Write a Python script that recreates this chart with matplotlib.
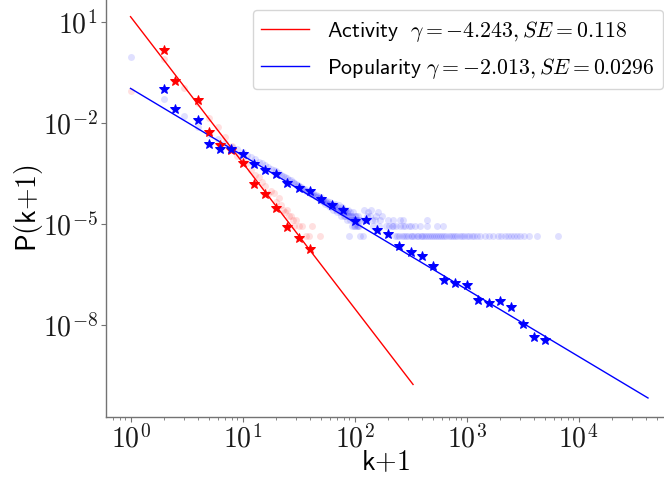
import matplotlib
matplotlib.use("Agg")
import matplotlib.pyplot as plt
import numpy as np

plt.rcParams["mathtext.fontset"] = "cm"

# number of users (P = count / N)
N_USERS = 229000

# log-binned points (bin centres as log10 k+1, log10 P)
act_bin_logk = [0.3, 0.4, 0.6, 0.7, 0.8, 0.9, 1.0, 1.1, 1.2, 1.3, 1.4, 1.5, 1.6]
act_bin_logp = [0.16, -0.76, -1.32, -2.27, -2.65, -2.82, -3.21, -3.81, -4.12,
                -4.54, -5.11, -5.41, -5.76]

pop_bin_logk = [0.3, 0.4, 0.6, 0.7, 0.8, 0.9, 1.0, 1.1, 1.2, 1.3, 1.4, 1.5, 1.6,
                1.7, 1.8, 1.9, 2.0, 2.1, 2.2, 2.3, 2.4, 2.5, 2.6, 2.7, 2.8, 2.9,
                3.0, 3.1, 3.2, 3.3, 3.4, 3.5, 3.6, 3.7]
pop_bin_logp = [-1.01, -1.60, -1.905, -2.63, -2.78, -2.78, -2.93, -3.24, -3.40,
                -3.53, -3.80, -3.95, -4.03, -4.25, -4.44, -4.59, -4.91, -4.88,
                -5.19, -5.31, -5.66, -5.83, -5.95, -6.25, -6.67, -6.75, -6.82,
                -7.27, -7.36, -7.29, -7.46, -7.98, -8.37, -8.45]

# raw counts per k+1 (activity)
act_raw_k = [1, 2, 3, 4, 5, 6, 7, 8, 9, 10, 11, 12, 13, 14, 15, 16, 17, 18, 19,
             20, 21, 22, 23, 24, 25, 26, 27, 28, 29, 30, 32, 34, 37, 39, 42, 49]
act_raw_cnt = [19900, 175000, 25100, 9100, 3230, 1660, 850, 457, 229, 204, 144,
               91, 64, 55, 41, 30, 18, 22, 19, 10, 13, 8, 6, 5, 6, 4, 4, 3, 2, 3,
               2, 2, 1, 1, 2, 1]

# raw counts per k+1 (popularity), k+1 = 1..110
pop_raw_cnt = [208000, 11500, 3630, 1660, 1080, 760, 560, 450, 370, 300,
               255, 215, 190, 160, 142, 126, 113, 98, 90, 82,
               74, 66, 62, 55, 52, 47, 45, 40, 38, 35,
               33, 30, 29, 26, 25, 24, 22, 21, 20, 19,
               18, 17, 19, 15, 16, 14, 15, 13, 12, 14,
               11, 12, 10, 11, 9, 10, 11, 8, 9, 10,
               7, 9, 8, 6, 8, 7, 9, 6, 7, 5,
               7, 6, 8, 5, 6, 4, 7, 5, 6, 4,
               5, 6, 4, 5, 3, 5, 4, 6, 1, 4,
               5, 3, 4, 2, 4, 3, 5, 2, 3, 4,
               3, 2, 4, 3, 2, 3, 4, 2, 3, 2]
# sparse tail of popularity, grouped by count
pop_tail_k1 = [112, 119, 232, 241, 249, 263, 275, 288, 301, 316, 329, 342, 358,
               371, 389, 404, 421, 437, 452, 470, 491, 512, 534, 556, 581, 607,
               633, 660, 694, 727, 760, 795, 830, 872, 910, 952, 1000, 1050,
               1110, 1170, 1240, 1320, 1450, 1580, 1730, 1900, 2050, 2200, 2330,
               2480, 2640, 2810, 3000, 3260, 3600, 4250, 6550]
pop_tail_k2 = [146, 166, 192, 203, 214, 222, 236, 254, 270, 283, 308, 322, 347,
               385, 444, 545, 618]
pop_tail_k3 = [114, 124, 143, 152, 169, 197, 219, 257, 272, 447]
pop_tail_k4 = [128, 137, 157, 176]
pop_tail_k5 = [133, 161]
pop_tail_k6 = [121, 140]

# fitted power laws: log10 P = a + b * log10(k+1), up to k_max
act_fit = (1.15, -4.33, 333)
pop_fit = (-0.98, -1.99, 41700)
act_label = r"$\mathsf{Activity}\ \ \gamma = -4.243, SE = 0.118$"
pop_label = r"$\mathsf{Popularity}\ \gamma = -2.013, SE = 0.0296$"

fig = plt.figure(figsize=(6.64, 4.8), dpi=100)
ax = fig.add_axes([106 / 664, 63.3 / 480, 1 - 106 / 664, 1 - 63.3 / 480])

# raw points
pop_k = list(range(1, len(pop_raw_cnt) + 1))
pop_cnt = list(pop_raw_cnt)
for c, ks in [(1, pop_tail_k1), (2, pop_tail_k2), (3, pop_tail_k3),
              (4, pop_tail_k4), (5, pop_tail_k5), (6, pop_tail_k6)]:
    pop_k += ks
    pop_cnt += [c] * len(ks)
ax.plot(pop_k, np.array(pop_cnt) / N_USERS, 'o', color='blue', alpha=0.12,
        ms=5, mew=0)
ax.plot(act_raw_k, np.array(act_raw_cnt) / N_USERS, 'o', color='red', alpha=0.12,
        ms=5, mew=0)

# fit lines
for (a, b, kmax), col, lab in [(act_fit, 'red', act_label), (pop_fit, 'blue', pop_label)]:
    xs = np.array([1.0, kmax])
    ax.plot(xs, 10 ** (a + b * np.log10(xs)), '-', color=col, lw=1.0, label=lab)

# log-binned stars
ax.plot(10 ** np.array(act_bin_logk), 10 ** np.array(act_bin_logp), '*',
        color='red', ms=7, mew=0.7)
ax.plot(10 ** np.array(pop_bin_logk), 10 ** np.array(pop_bin_logp), '*',
        color='blue', ms=7, mew=0.7)

ax.set_xscale('log')
ax.set_yscale('log')
ax.set_xlim(10 ** (-0.219), 10 ** 4.763)
ax.set_ylim(10 ** (-10.73), 10 ** 1.645)
ax.set_yticks([1e1, 1e-2, 1e-5, 1e-8])
ax.yaxis.set_minor_locator(matplotlib.ticker.NullLocator())
pow_fmt = matplotlib.ticker.FuncFormatter(
    lambda v, pos: r"$10^{%d}$" % int(round(np.log10(v))))
ax.xaxis.set_major_formatter(pow_fmt)
ax.yaxis.set_major_formatter(pow_fmt)

for s in ['top', 'right']:
    ax.spines[s].set_visible(False)
for s in ['left', 'bottom']:
    ax.spines[s].set_color('0.45')
    ax.spines[s].set_linewidth(1.0)
ax.tick_params(which='both', colors='0.45', labelcolor='0.1', labelsize=20)
ax.tick_params(which='major', length=3.5, pad=2.5)
ax.tick_params(which='minor', length=2)

ax.set_xlabel(r"$\mathsf{k{+}1}$", fontsize=20, labelpad=-4)
ax.set_ylabel(r"$\mathsf{P(k{+}1)}$", fontsize=20, labelpad=-2)

leg = ax.legend(loc='upper right', bbox_to_anchor=(663 / 664, 1 - 10 / 480),
                bbox_transform=fig.transFigure, borderaxespad=0, fontsize=15.7,
                handlelength=2.2, labelspacing=0.55)

plt.savefig('out.png', dpi=100)
